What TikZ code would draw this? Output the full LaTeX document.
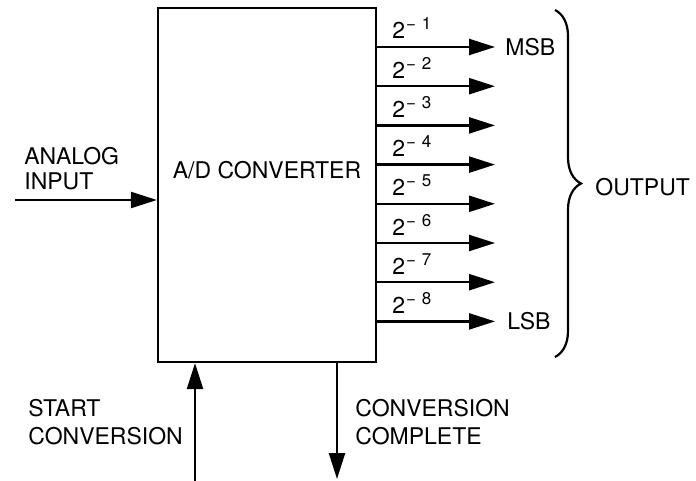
\documentclass[tikz,border=0pt]{standalone}
\usepackage{fontspec}
\setmainfont{TeX Gyre Heros}
\usetikzlibrary{arrows.meta,positioning,calc,decorations.pathreplacing}

\tikzset{
  sig/.style={-{Triangle[length=13pt,width=8pt]}, line width=1.2pt},
  caption/.style={inner sep=0pt, align=left, font=\fontsize{11.5}{14}\selectfont},
}

\begin{document}
\begin{tikzpicture}[x=0.5pt,y=-0.5pt]
  \useasboundingbox (0,0) rectangle (696,481);

  % converter block
  \node (conv) [rectangle, draw, line width=1.1pt, minimum width=109pt, minimum height=177pt] at (267,185) {};
  \node (convname) [caption] at (267,170) {A/D CONVERTER};

  % analog input
  \coordinate (ain) at (15,200);
  \draw[sig] (ain) -- (conv.west |- ain);
  \node (ainlbl) [caption, font=\fontsize{11.5}{12.5}\selectfont, anchor=north west] at (24,147) {ANALOG\\INPUT};

  % output bits
  \foreach \i in {1,...,8} {
    \pgfmathsetmacro{\ypos}{47+(\i-1)*39.2}
    \coordinate (out\i) at (495,\ypos);
    \draw[sig] (conv.east |- out\i) -- (out\i);
    \node (bit\i) [caption, anchor=base west] at (392,\ypos-8) {2\kern0.5pt\raisebox{4.5pt}{\fontsize{8.5}{9}\selectfont −\,\,\i}};
  }
  \node (msb) [caption, right=5pt of out1] {MSB};
  \node (lsb) [caption, right=6pt of out8] {LSB};

  % output brace
  \coordinate (brtop) at (555,10);
  \coordinate (brbot) at (555,357);
  \draw[line width=1.1pt, decorate, decoration={brace, amplitude=13pt}] (brtop) -- (brbot);
  \node (outlbl) [caption, anchor=west] at (595,187) {OUTPUT};

  % start / complete
  \coordinate (startin) at (195,481);
  \draw[sig] (startin) -- (startin |- conv.south);
  \node (startlbl) [caption, anchor=north west] at (28,399) {START\\CONVERSION};

  \coordinate (doneout) at (337,479);
  \draw[sig] (conv.south -| doneout) -- (doneout);
  \node (donelbl) [caption, anchor=north west] at (355,399) {CONVERSION\\COMPLETE};
\end{tikzpicture}
\end{document}
